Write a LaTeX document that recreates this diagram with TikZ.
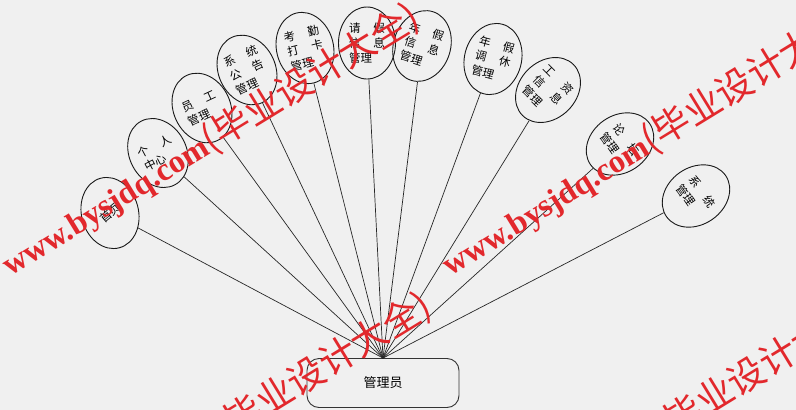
\documentclass[tikz,border=0pt]{standalone}
\usepackage{fontspec}
\usepackage{graphicx}
\newfontfamily\cjk{Noto Sans CJK SC}
\newfontfamily\wmlat{Liberation Serif}
\usetikzlibrary{shapes.geometric}
\definecolor{wmred}{RGB}{226,40,44}
\definecolor{bg}{RGB}{240,240,240}
\newcommand\tw[2]{\makebox[36pt][s]{#1\hfill#2}}
\newcommand\wmtext{{\wmlat\bfseries\fontsize{32.5}{33}\selectfont www.bysjdq.com}{\cjk\fontsize{37}{37}\selectfont(毕业设计大全)}}
\tikzset{
  uc/.style={draw=black!90, line width=0.9pt, ellipse, minimum width=57pt, minimum height=72pt,
    inner sep=0pt, align=left, font=\cjk\fontsize{11.5}{15}\selectfont},
  conn/.style={draw=black!85, line width=0.7pt},
  actor/.style={draw=black!80, line width=0.9pt, rounded corners=12pt, minimum width=152pt,
    minimum height=49pt, font=\cjk\fontsize{13}{15}\selectfont},
  wm/.style={text=wmred, anchor=base west, rotate=31.5, inner sep=0pt}
}
\begin{document}
\begin{tikzpicture}[x=1pt,y=-1pt]
\fill[bg] (0,0) rectangle (796,410);
\useasboundingbox (0,0) rectangle (796,410);
\node[actor] (admin) at (383,383) {管理员};
\coordinate (hub) at (admin.north);
\node[uc, rotate=15] (e1) at (110,213) {\rotatebox{25}{首页}};
\node[uc, rotate=28] (e2) at (158,153) {\tw{个}{人}\\中心};
\node[uc, rotate=25] (e3) at (202,108) {\tw{员}{工}\\管理};
\node[uc, rotate=25] (e4) at (247,70) {\tw{系}{统}\\\tw{公}{告}\\管理};
\node[uc, rotate=14] (e5) at (305,48) {\tw{考}{勤}\\\tw{打}{卡}\\管理};
\node[uc] (e6) at (367,43) {\tw{请}{假}\\\tw{信}{息}\\管理};
\node[uc, rotate=-18] (e7) at (422,46) {\tw{年}{假}\\\tw{信}{息}\\管理};
\node[uc, rotate=-15] (e8) at (493,59) {\tw{年}{假}\\\tw{调}{休}\\管理};
\node[uc, rotate=-45] (e9) at (548,90) {\tw{工}{资}\\\tw{信}{息}\\管理};
\node[uc, rotate=-55] (e10) at (620,144) {\tw{论}{坛}\\管理};
\node[uc, rotate=-55] (e11) at (696,196) {\tw{系}{统}\\管理};
\foreach \e in {e1,e2,e3,e4,e5,e6,e7,e8,e9,e10,e11}
  \draw[conn] (hub) -- (\e);
\node[wm] (w1) at (10,277) {\wmtext};
\node[wm] (w2) at (450,277) {\wmtext};
\node[wm] (w3) at (22,566) {\wmtext};
\node[wm] (w4) at (462,566) {\wmtext};
\end{tikzpicture}
\end{document}
